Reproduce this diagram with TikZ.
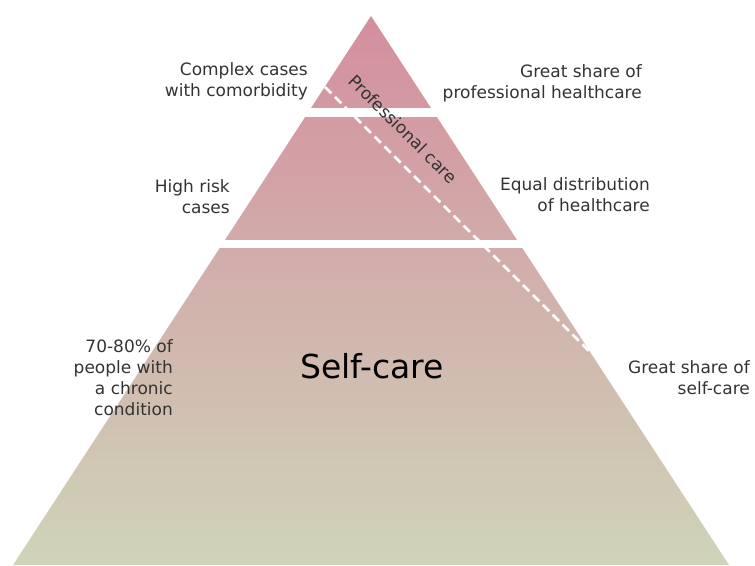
\documentclass[tikz,border=0pt]{standalone}
\usepackage{fontspec}
\setmainfont{DejaVu Sans}
\definecolor{toppink}{RGB}{212,142,158}
\definecolor{basegreen}{RGB}{207,212,185}
\definecolor{labelgray}{RGB}{51,51,51}
\begin{document}
\begin{tikzpicture}[x=1pt,y=-1pt,
  lbl/.style={font=\fontsize{17}{21}\selectfont, text=labelgray, align=right, anchor=north east, inner sep=0pt},
  gapband/.style={fill=white, draw=none},
  divider/.style={draw=white, line width=2.5pt, dash pattern=on 9pt off 5pt}]
\useasboundingbox (0,0) rectangle (755,565);
\coordinate (apex) at (371,16);
\coordinate (bl) at (13,565);
\coordinate (br) at (729,565);
\shade[top color=toppink, bottom color=basegreen] (apex) -- (br) -- (bl) -- cycle;
\path[gapband] (0,108) rectangle (755,117);
\path[gapband] (0,240) rectangle (755,248);
\coordinate (ds) at (325,87);
\coordinate (de) at (591,353);
\draw[divider] (ds) -- (de);
\node[font=\fontsize{17}{21}\selectfont, text=labelgray, rotate=-45, inner sep=0pt] (prof) at (403,129) {Professional care};
\node[font=\fontsize{33}{38}\selectfont, text=black, inner sep=0pt] (self) at (372,366) {Self-care};
\node[lbl] (complex) at (308,62) {Complex cases\\with comorbidity};
\node[lbl] (highrisk) at (230,179) {High risk\\cases};
\node[lbl] (chronic) at (173,339) {70-80\% of\\people with\\a chronic\\condition};
\node[lbl] (greatprof) at (642,64) {Great share of\\professional healthcare};
\node[lbl] (equal) at (650,177) {Equal distribution\\of healthcare};
\node[lbl] (greatself) at (750,360) {Great share of\\self-care};
\end{tikzpicture}
\end{document}
